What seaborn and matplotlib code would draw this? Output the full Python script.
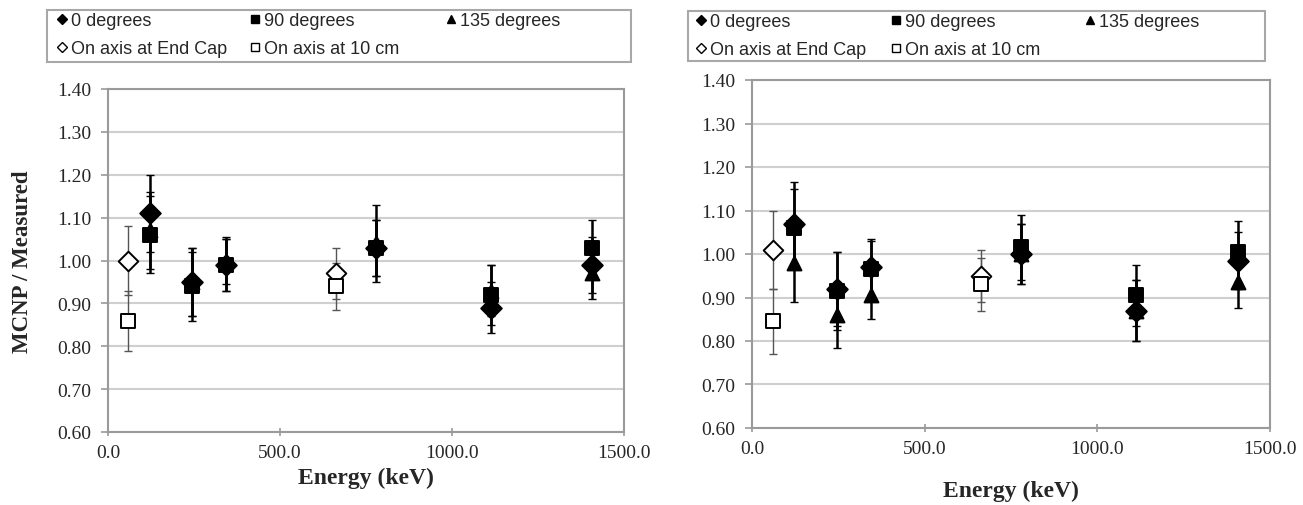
import numpy as np
import seaborn as sns
import matplotlib.pyplot as plt
from matplotlib.lines import Line2D
from matplotlib.patches import Rectangle
from matplotlib.ticker import FormatStrFormatter, MultipleLocator

# Eu-152 lines and the two on-axis sources (keV)
energy_eu = [121.8, 244.7, 344.3, 778.9, 1112.1, 1408.0]
energy_axis = [59.5, 661.7]

# left panel
deg0_a = [1.11, 0.95, 0.99, 1.03, 0.89, 0.99]
deg0_a_err = [0.09, 0.08, 0.06, 0.065, 0.06, 0.065]
deg90_a = [1.06, 0.94, 0.99, 1.03, 0.92, 1.03]
deg90_a_err = [0.09, 0.08, 0.06, 0.065, 0.07, 0.065]
deg135_a = [1.07, 0.95, 1.00, 1.04, 0.93, 0.97]
deg135_a_err = [0.09, 0.08, 0.055, 0.09, 0.06, 0.06]
endcap_a = [1.00, 0.97]
endcap_a_err = [0.08, 0.06]
cm10_a = [0.86, 0.94]
cm10_a_err = [0.07, 0.055]

# right panel
deg0_b = [1.07, 0.92, 0.97, 1.00, 0.87, 0.985]
deg0_b_err = [0.095, 0.085, 0.065, 0.07, 0.07, 0.065]
deg90_b = [1.06, 0.915, 0.965, 1.015, 0.905, 1.005]
deg90_b_err = [0.09, 0.09, 0.065, 0.075, 0.07, 0.07]
deg135_b = [0.98, 0.86, 0.905, 1.00, 0.87, 0.935]
deg135_b_err = [0.09, 0.075, 0.055, 0.07, 0.07, 0.06]
endcap_b = [1.01, 0.95]
endcap_b_err = [0.09, 0.06]
cm10_b = [0.845, 0.93]
cm10_b_err = [0.075, 0.06]

labels = ['0 degrees', '90 degrees', '135 degrees',
          'On axis at End Cap', 'On axis at 10 cm']

sns.set_style('white')
plt.rcParams['font.family'] = ['Liberation Serif', 'DejaVu Serif']

W, H = 1303, 506
fig = plt.figure(figsize=(W / 100, H / 100), dpi=100)
ax1 = fig.add_axes([108 / W, 1 - 433 / H, 516 / W, 343 / H])
ax2 = fig.add_axes([752 / W, 1 - 429 / H, 518 / W, 348 / H])

grid_c = '#cfcfcf'
spine_c = '#9a9a9a'


def draw_panel(ax, series):
    for x, y, err, marker, face, ms in series:
        filled = face == 'black'
        ax.errorbar(x, y, yerr=err, fmt='none',
                     ecolor='black' if filled else '#555555',
                     elinewidth=1.8 if filled else 1.0,
                     capsize=3, capthick=1.0, zorder=3)
        sns.scatterplot(x=x, y=y, marker=marker, color=face,
                        edgecolor='black', linewidth=1.4, s=ms,
                        ax=ax, zorder=4, legend=False)

    ax.set_xlim(0, 1500)
    ax.set_ylim(0.6, 1.4)
    ax.xaxis.set_major_locator(MultipleLocator(500))
    ax.yaxis.set_major_locator(MultipleLocator(0.1))
    ax.xaxis.set_major_formatter(FormatStrFormatter('%.1f'))
    ax.yaxis.set_major_formatter(FormatStrFormatter('%.2f'))
    ax.grid(axis='y', color=grid_c, linewidth=1.5)
    ax.set_axisbelow(True)
    for s in ax.spines.values():
        s.set_color(spine_c)
        s.set_linewidth(1.5)
    ax.tick_params(axis='y', direction='out', length=5, width=1.2,
                   color=spine_c, labelsize=14, pad=7, left=True)
    ax.tick_params(axis='x', direction='inout', length=6, width=1.2,
                   color=spine_c, labelsize=14, pad=6, bottom=True)


draw_panel(ax1, [
    (energy_eu, deg0_a, deg0_a_err, 'D', 'black', 110),
    (energy_eu, deg90_a, deg90_a_err, 's', 'black', 100),
    (energy_eu, deg135_a, deg135_a_err, '^', 'black', 100),
    (energy_axis, endcap_a, endcap_a_err, 'D', 'white', 100),
    (energy_axis, cm10_a, cm10_a_err, 's', 'white', 100),
])
draw_panel(ax2, [
    (energy_eu, deg0_b, deg0_b_err, 'D', 'black', 110),
    (energy_eu, deg90_b, deg90_b_err, 's', 'black', 100),
    (energy_eu, deg135_b, deg135_b_err, '^', 'black', 100),
    (energy_axis, endcap_b, endcap_b_err, 'D', 'white', 100),
    (energy_axis, cm10_b, cm10_b_err, 's', 'white', 100),
])

ax1.set_ylabel('MCNP / Measured', fontsize=16.5, fontweight='bold', labelpad=17)
ax1.set_xlabel('Energy (keV)', fontsize=17, fontweight='bold', labelpad=4)
ax2.set_xlabel('Energy (keV)', fontsize=17, fontweight='bold', labelpad=16)

# legend boxes above each panel, three fixed columns like the original
handles = [
    Line2D([], [], ls='none', marker='D', color='black', ms=5),
    Line2D([], [], ls='none', marker='s', color='black', ms=6),
    Line2D([], [], ls='none', marker='^', color='black', ms=6),
    Line2D([], [], ls='none', marker='D', mfc='white', mec='black', ms=5, mew=1),
    Line2D([], [], ls='none', marker='s', mfc='white', mec='black', ms=6, mew=1),
]
columns = [[0, 3], [1, 4], [2]]
boxes = [
    ((47, 631, 11, 63), [62, 255, 451]),
    ((688, 1265, 12, 62), [701, 896, 1090]),
]
for (x0, x1, y0, y1), col_x in boxes:
    fig.patches.append(Rectangle((x0 / W, 1 - y1 / H), (x1 - x0) / W, (y1 - y0) / H,
                                 transform=fig.transFigure, fill=False,
                                 edgecolor='#a8a8a8', linewidth=1.5))
    for idx, cx in zip(columns, col_x):
        fig.legend([handles[i] for i in idx], [labels[i] for i in idx],
                   loc='upper left', bbox_to_anchor=((cx - 5) / W, 1 - (y0 + 2) / H),
                   prop={'family': 'Liberation Sans', 'size': 13},
                   handlelength=0.6, handletextpad=0.2,
                   labelspacing=0.62, borderpad=0, borderaxespad=0,
                   frameon=False)

fig.savefig('out.png', dpi=100, facecolor='white')
